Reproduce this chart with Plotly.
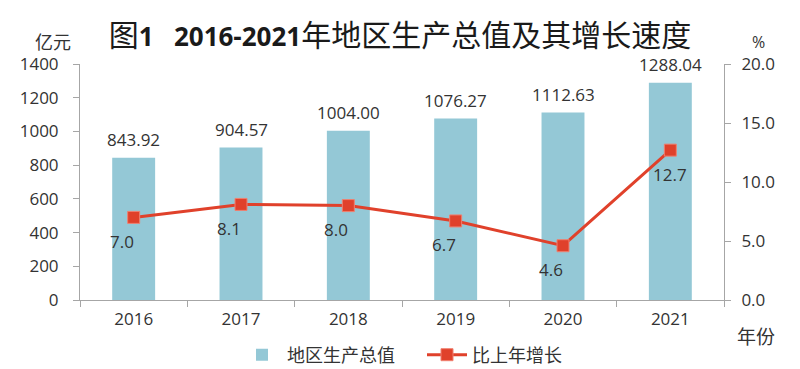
import plotly.graph_objects as go

years = ["2016", "2017", "2018", "2019", "2020", "2021"]
gdp = [843.92, 904.57, 1004.00, 1076.27, 1112.63, 1288.04]
growth = [7.0, 8.1, 8.0, 6.7, 4.6, 12.7]
y_ticks = [0, 200, 400, 600, 800, 1000, 1200, 1400]
y2_ticks = [0.0, 5.0, 10.0, 15.0, 20.0]

BAR = "#94C8D6"
RED = "#E0412B"
TXT = "#333333"
AX = "#A6A6A6"
FONT = "Open Sans, Noto Sans CJK SC, sans-serif"
CJK = "Noto Sans CJK SC, sans-serif"
NUM = 17

fig = go.Figure()
fig.add_trace(go.Bar(
    x=years, y=gdp, name="地区生产总值", width=0.4,
    marker=dict(color=BAR, line=dict(width=0)),
    yaxis="y",
))
fig.add_trace(go.Scatter(
    x=years, y=growth, name="比上年增长", mode="lines+markers",
    line=dict(color=RED, width=3),
    marker=dict(symbol="square", size=12, color=RED, line=dict(color="#F08070", width=1)),
    yaxis="y2",
))

annotations = []
for i, v in enumerate(gdp):
    annotations.append(dict(x=i, y=v, xref="x", yref="y", text=f"{v:.2f}",
                            showarrow=False, yshift=18, xanchor="center", yanchor="middle",
                            font=dict(family=FONT, size=NUM, color=TXT)))
for i, g in enumerate(growth):
    annotations.append(dict(x=i, y=g, xref="x", yref="y2", text=f"{g:.1f}",
                            showarrow=False, yshift=-24,
                            xshift=0 if i == len(growth) - 1 else -12,
                            xanchor="center", yanchor="middle",
                            font=dict(family=FONT, size=NUM, color=TXT)))
annotations += [
    dict(x=0, y=1, xref="paper", yref="paper", text="亿元", showarrow=False,
         xanchor="center", yanchor="middle",
         xshift=-27, yshift=23, font=dict(family=CJK, size=18, color=TXT)),
    dict(x=1, y=1, xref="paper", yref="paper", text="%", showarrow=False,
         xanchor="center", yanchor="middle",
         xshift=34, yshift=22, font=dict(family=FONT, size=16, color=TXT)),
    dict(x=1, y=0, xref="paper", yref="paper", text="年份", showarrow=False,
         xanchor="center", yanchor="middle",
         xshift=32, yshift=-35, font=dict(family=CJK, size=19, color=TXT)),
]

fig.update_layout(
    width=800, height=369, autosize=False,
    margin=dict(l=80, r=76, t=64, b=69),
    paper_bgcolor="white", plot_bgcolor="white",
    title=dict(
        text="图<b><span style='font-size:26px'>1\u00a0\u00a0 2016-2021</span></b>年地区生产总值及其增长速度",
        x=0.5, xanchor="center", y=1 - 35 / 369, yanchor="middle",
        font=dict(family=FONT, size=30, color="#1a1a1a"),
    ),
    showlegend=True,
    legend=dict(orientation="h", x=(237 - 80) / 644, xanchor="left",
                yref="container", y=1 - 355 / 369, yanchor="middle",
                font=dict(family=CJK, size=18, color=TXT), itemwidth=40,
                entrywidth=130, entrywidthmode="pixels",
                bgcolor="rgba(0,0,0,0)", borderwidth=0),
    xaxis=dict(
        type="category", range=[-0.5, 5.5], showline=True, linecolor=AX, linewidth=1,
        ticks="outside", tickson="boundaries", ticklen=6, tickcolor=AX, automargin=False,
        ticklabelstandoff=4,
        tickfont=dict(family=FONT, size=NUM, color=TXT), showgrid=False, zeroline=False,
    ),
    yaxis=dict(
        range=[0, 1400], tickvals=y_ticks, ticktext=[str(t) for t in y_ticks],
        showline=True, linecolor=AX, linewidth=1, ticks="outside", ticklen=6, tickcolor=AX,
        automargin=False, ticklabelstandoff=11,
        tickfont=dict(family=FONT, size=NUM, color=TXT), showgrid=False, zeroline=False,
    ),
    yaxis2=dict(
        range=[0, 20], tickvals=y2_ticks, ticktext=[f"{t:.1f}" for t in y2_ticks],
        overlaying="y", side="right", automargin=False, ticklabelstandoff=7,
        showline=True, linecolor=AX, linewidth=1, ticks="outside", ticklen=6, tickcolor=AX,
        tickfont=dict(family=FONT, size=NUM, color=TXT), showgrid=False, zeroline=False,
    ),
    annotations=annotations,
)

fig.write_html("out.html", config={"displayModeBar": False},
               post_script="document.body.style.margin='0';")
